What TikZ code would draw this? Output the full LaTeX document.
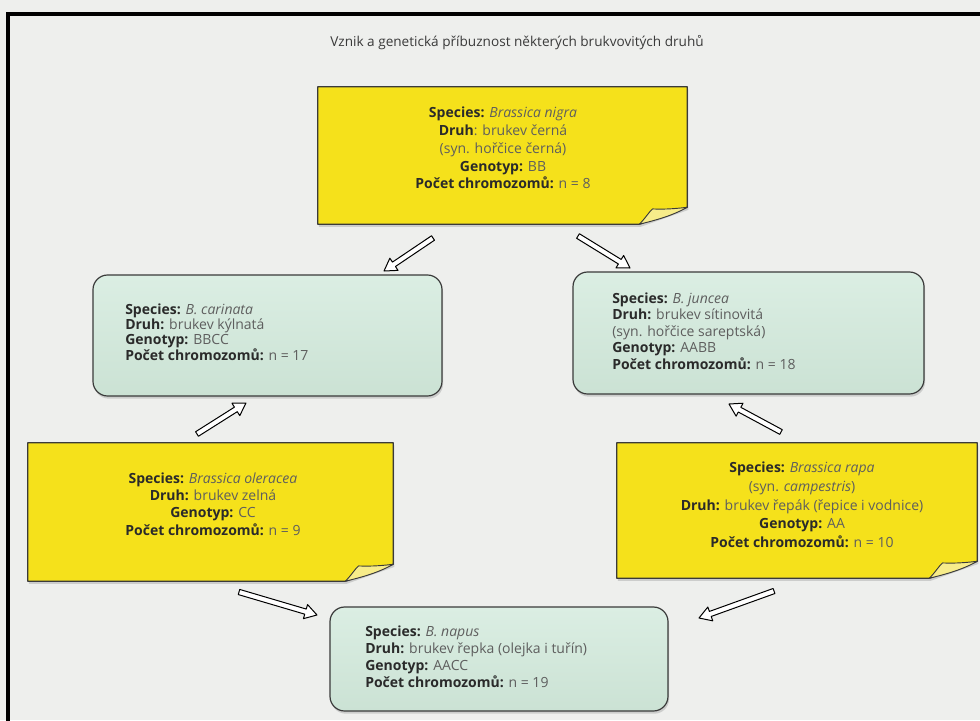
\documentclass[tikz,border=0pt]{standalone}
\usepackage{fontspec}
\setmainfont{Open Sans}
\usetikzlibrary{calc,shadows}
\definecolor{bgcol}{HTML}{EEEFED}
\definecolor{yel}{HTML}{F5E11B}
\definecolor{flap}{HTML}{F7EC8A}
\definecolor{greentop}{HTML}{DBEEE3}
\definecolor{greenbot}{HTML}{CBE2D4}
\definecolor{boxline}{HTML}{3A3A3A}
\definecolor{labelcol}{HTML}{2A2A2A}
\definecolor{valcol}{HTML}{5E5E5E}
\definecolor{titlecol}{HTML}{3A3A3A}
\newcommand\Lb[1]{\textbf{\color{labelcol}#1}}
\tikzset{
  greenbox/.style={draw=boxline, line width=0.9pt, rounded corners=11pt,
    top color=greentop, bottom color=greenbot, inner sep=0pt,
    drop shadow={shadow xshift=0.8pt, shadow yshift=-2pt, opacity=0.3}},
  holder/.style={draw=none, inner sep=0pt},
  yellowshape/.style={draw=boxline, line width=0.9pt, fill=yel, line join=round,
    drop shadow={shadow xshift=0.8pt, shadow yshift=-2pt, opacity=0.3}},
  flapshape/.style={draw=boxline, line width=0.7pt, fill=flap, line join=round},
  boxtext/.style={text=valcol, inner sep=0pt},
  txtc/.style={boxtext, align=center},
  txtl/.style={boxtext, align=left, anchor=west},
  hollow/.style={draw=black, line width=0.75pt, fill=white, line join=round},
}
\newcommand\stickynote[1]{%
  \path[yellowshape] (#1.north west) -- (#1.north east) -- ([yshift=12.75pt]#1.south east)
    -- ([xshift=-36pt]#1.south east) -- (#1.south west) -- cycle;
  \path[flapshape] ([xshift=-36pt]#1.south east)
    .. controls ([xshift=-31pt,yshift=5pt]#1.south east) and ([xshift=-29pt,yshift=9pt]#1.south east) .. ([xshift=-26pt,yshift=11.5pt]#1.south east)
    .. controls ([xshift=-16pt,yshift=11pt]#1.south east) and ([xshift=-6pt,yshift=12pt]#1.south east) .. ([yshift=12.75pt]#1.south east)
    .. controls ([xshift=-12pt,yshift=6pt]#1.south east) and ([xshift=-24pt,yshift=3pt]#1.south east) .. ([xshift=-36pt]#1.south east) -- cycle;
}
\newcommand\hollowarrow[2]{%
  \coordinate (hb) at ($(#2)!9pt!(#1)$);
  \path[hollow] ($(#1)!2pt!90:(#2)$) -- ($(hb)!2pt!90:(#2)$) -- ($(hb)!5.5pt!90:(#2)$)
    -- (#2) -- ($(hb)!5.5pt!-90:(#2)$) -- ($(hb)!2pt!-90:(#2)$) -- ($(#1)!2pt!-90:(#2)$) -- cycle;
}
\begin{document}
\begin{tikzpicture}[x=0.75pt,y=-0.75pt]
\useasboundingbox (0,0) rectangle (980,720);
\fill[bgcol] (0,0) rectangle (980,720);
\draw[line width=2.3pt, line cap=rect] (8,721) -- (8,14) -- (981,14);

\node[font=\fontsize{10.2}{12}\selectfont, text=titlecol, inner sep=0pt] (title) at (517,43)
  {Vznik a genetická příbuznost některých brukvovitých druhů};

% yellow sticky notes
\node[holder, minimum width=276.75pt, minimum height=102.75pt] (nigra) at (502.5,155.5) {};
\stickynote{nigra}
\node[txtc, font=\fontsize{10.5}{13.4}\selectfont] (nigraT) at (503,148) {\Lb{Species:} \textit{Brassica nigra}\\ \Lb{Druh}: brukev černá\\ (syn. hořčice černá)\\ \Lb{Genotyp:} BB\\ \Lb{Počet chromozomů:} n = 8};

\node[holder, minimum width=273.75pt, minimum height=103.5pt] (oleracea) at (210.5,512) {};
\stickynote{oleracea}
\node[txtc, font=\fontsize{10.5}{13}\selectfont] (oleraceaT) at (213,504) {\Lb{Species:} \textit{Brassica oleracea}\\ \Lb{Druh:} brukev zelná\\ \Lb{Genotyp:} CC\\ \Lb{Počet chromozomů:} n = 9};

\node[holder, minimum width=270pt, minimum height=101.25pt] (rapa) at (797,510.5) {};
\stickynote{rapa}
\node[txtc, font=\fontsize{10.5}{14}\selectfont] (rapaT) at (802,505) {\Lb{Species:} \textit{Brassica rapa}\\ (syn. \textit{campestris})\\ \Lb{Druh:} brukev řepák (řepice i vodnice)\\ \Lb{Genotyp:} AA\\ \Lb{Počet chromozomů:} n = 10};

% green boxes
\node[greenbox, minimum width=261.75pt, minimum height=90.75pt] (carinata) at (267.5,335.5) {};
\node[txtl, font=\fontsize{10.5}{11.6}\selectfont] (carinataT) at (125,332) {\Lb{Species:} \textit{B. carinata}\\ \Lb{Druh:} brukev kýlnatá\\ \Lb{Genotyp:} BBCC\\ \Lb{Počet chromozomů:} n = 17};

\node[greenbox, minimum width=263.25pt, minimum height=91.5pt] (juncea) at (748.5,333) {};
\node[txtl, font=\fontsize{10.5}{12.3}\selectfont] (junceaT) at (612,331) {\Lb{Species:} \textit{B. juncea}\\ \Lb{Druh:} brukev sítinovitá\\ (syn. hořčice sareptská)\\ \Lb{Genotyp:} AABB\\ \Lb{Počet chromozomů:} n = 18};

\node[greenbox, minimum width=253.5pt, minimum height=78pt] (napus) at (499,659) {};
\node[txtl, font=\fontsize{10.5}{12.8}\selectfont] (napusT) at (365,657) {\Lb{Species:} \textit{B. napus}\\ \Lb{Druh:} brukev řepka (olejka i tuřín)\\ \Lb{Genotyp:} AACC\\ \Lb{Počet chromozomů:} n = 19};

% arrows
\coordinate (a1s) at (433,238); \coordinate (a1e) at (384,271);
\coordinate (a2s) at (578,236); \coordinate (a2e) at (630,268);
\coordinate (a3s) at (197,434); \coordinate (a3e) at (246,403);
\coordinate (a4s) at (781,432); \coordinate (a4e) at (729,404);
\coordinate (a5s) at (239,592); \coordinate (a5e) at (317,615);
\coordinate (a6s) at (774,591); \coordinate (a6e) at (699,618);
\hollowarrow{a1s}{a1e}
\hollowarrow{a2s}{a2e}
\hollowarrow{a3s}{a3e}
\hollowarrow{a4s}{a4e}
\hollowarrow{a5s}{a5e}
\hollowarrow{a6s}{a6e}
\end{tikzpicture}
\end{document}
